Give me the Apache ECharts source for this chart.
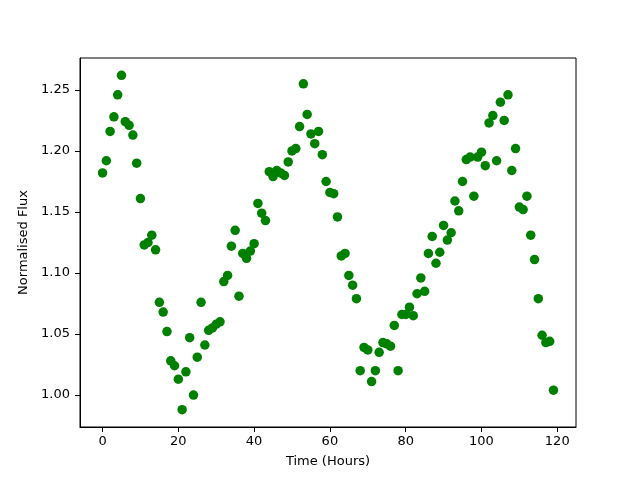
<!DOCTYPE html>
<html>
<head>
<meta charset="utf-8">
<script src="https://cdn.jsdelivr.net/npm/echarts@6/dist/echarts.min.js"></script>
<style>
  html, body { margin: 0; padding: 0; background: #fff; }
  #chart { width: 640px; height: 480px; }
</style>
</head>
<body>
<div id="chart"></div>
<script>
// hourly samples, 0..119
const hours = [];
for (let i = 0; i < 120; i++) hours.push(i);

// normalised flux
const flux = [
  1.182, 1.192, 1.216, 1.228, 1.246, 1.262, 1.224, 1.221, 1.213, 1.190,
  1.161, 1.123, 1.125, 1.131, 1.119, 1.076, 1.068, 1.052, 1.028, 1.024,
  1.013, 0.988, 1.019, 1.047, 1.000, 1.031, 1.076, 1.041, 1.053, 1.055,
  1.058, 1.060, 1.093, 1.098, 1.122, 1.135, 1.081, 1.116, 1.112, 1.118,
  1.124, 1.157, 1.149, 1.143, 1.183, 1.179, 1.184, 1.182, 1.180, 1.191,
  1.200, 1.202, 1.220, 1.255, 1.230, 1.214, 1.206, 1.216, 1.197, 1.175,
  1.166, 1.165, 1.146, 1.114, 1.116, 1.098, 1.090, 1.079, 1.020, 1.039,
  1.037, 1.011, 1.020, 1.035, 1.043, 1.042, 1.040, 1.057, 1.020, 1.066,
  1.066, 1.072, 1.065, 1.083, 1.096, 1.085, 1.116, 1.130, 1.108, 1.117,
  1.139, 1.127, 1.133, 1.159, 1.151, 1.175, 1.193, 1.195, 1.163, 1.195,
  1.199, 1.188, 1.223, 1.229, 1.192, 1.240, 1.225, 1.246, 1.184, 1.202,
  1.154, 1.152, 1.163, 1.131, 1.111, 1.079, 1.049, 1.043, 1.044, 1.004
];

const xTicks = [0, 20, 40, 60, 80, 100, 120];
const yTicks = [1.00, 1.05, 1.10, 1.15, 1.20, 1.25];

const points = hours.map((h, i) => [h, flux[i]]);

const font = 'DejaVu Sans';
const myChart = echarts.init(document.getElementById('chart'), null, {renderer: 'canvas'});
myChart.setOption({
  animation: false,
  backgroundColor: '#fff',
  grid: {
    left: 80, right: 64, top: 58, bottom: 53,
    show: true, borderColor: '#000', borderWidth: 1, backgroundColor: 'transparent'
  },
  xAxis: {
    type: 'value',
    min: -5.95, max: 124.95,
    name: 'Time (Hours)',
    nameLocation: 'middle',
    nameGap: 28,
    nameTextStyle: {fontFamily: font, fontSize: 13, color: '#000'},
    splitLine: {show: false},
    axisLine: {onZero: false, lineStyle: {color: '#000', width: 1}},
    axisTick: {inside: false, length: 5, lineStyle: {color: '#000'}, customValues: xTicks},
    axisLabel: {fontFamily: font, fontSize: 13, color: '#000', margin: 8, customValues: xTicks}
  },
  yAxis: {
    type: 'value',
    min: 0.9738, max: 1.2762,
    name: 'Normalised Flux',
    nameLocation: 'middle',
    nameGap: 46,
    nameTextStyle: {fontFamily: font, fontSize: 13, color: '#000'},
    splitLine: {show: false},
    axisLine: {show: true, onZero: false, lineStyle: {color: '#000', width: 1}},
    axisTick: {show: true, inside: false, length: 5, lineStyle: {color: '#000'}, customValues: yTicks},
    axisLabel: {
      fontFamily: font, fontSize: 13, color: '#000', margin: 10, customValues: yTicks,
      formatter: v => v.toFixed(2)
    }
  },
  series: [{
    type: 'scatter',
    data: points,
    symbol: 'circle',
    symbolSize: 9.5,
    itemStyle: {color: '#008000', opacity: 1}
  }]
});
</script>
</body>
</html>
